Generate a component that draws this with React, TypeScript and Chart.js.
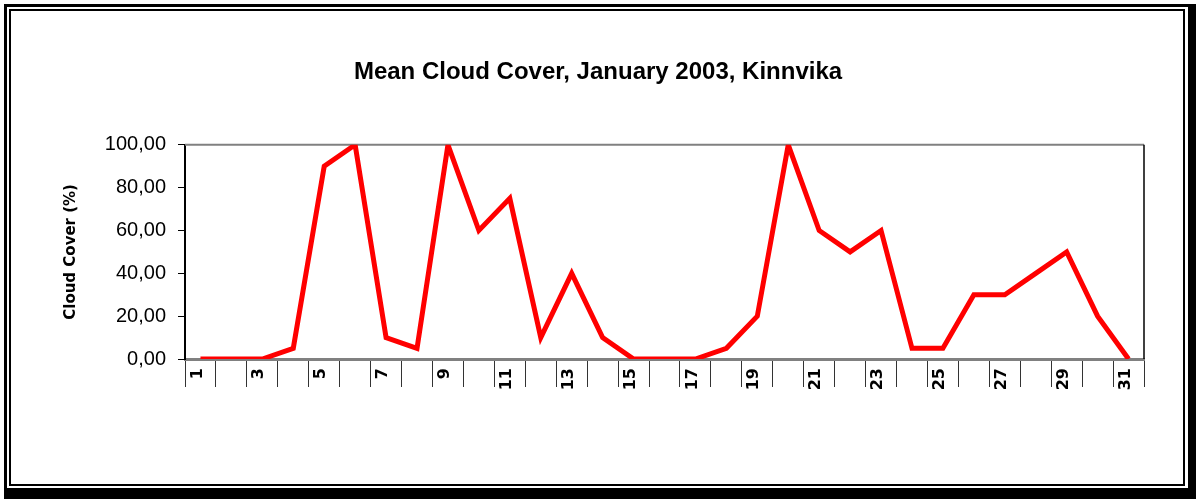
import React, { useEffect, useRef } from "react";
import { Chart, registerables } from "chart.js";

Chart.register(...registerables);

const days: string[] = [
  "1", "2", "3", "4", "5", "6", "7", "8", "9", "10", "11", "12", "13", "14", "15", "16",
  "17", "18", "19", "20", "21", "22", "23", "24", "25", "26", "27", "28", "29", "30", "31",
];
const cloudCover: number[] = [
  0, 0, 0, 5, 90, 100, 10, 5, 100, 60, 75, 10, 40, 10, 0, 0,
  0, 5, 20, 100, 60, 50, 60, 5, 5, 30, 30, 40, 50, 20, 0,
];
const yTicks: number[] = [0, 20, 40, 60, 80, 100];

const plotFrame = {
  id: "plotFrame",
  beforeDatasetsDraw(chart: any) {
    const { ctx, chartArea } = chart;
    ctx.save();
    ctx.strokeStyle = "#808080";
    ctx.lineWidth = 2;
    ctx.beginPath();
    ctx.moveTo(chartArea.left, chartArea.top);
    ctx.lineTo(chartArea.right, chartArea.top);
    ctx.stroke();
    ctx.strokeStyle = "#000";
    ctx.lineWidth = 1.5;
    ctx.beginPath();
    ctx.moveTo(chartArea.right, chartArea.top);
    ctx.lineTo(chartArea.right, chartArea.bottom);
    ctx.stroke();
    ctx.restore();
  },
};

export default function App() {
  const ref = useRef<HTMLCanvasElement | null>(null);
  useEffect(() => {
    if (!ref.current) return;
    const chart = new Chart(ref.current, {
      type: "line",
      data: {
        labels: days,
        datasets: [
          {
            data: cloudCover,
            borderColor: "#ff0000",
            borderWidth: 5,
            pointRadius: 0,
            tension: 0,
            fill: false,
          },
        ],
      },
      options: {
        animation: false,
        responsive: false,
        layout: { padding: { left: 0, right: 0, top: 0, bottom: 0 } },
        plugins: {
          legend: { display: false },
          tooltip: { enabled: false },
          title: {
            display: true,
            text: "Mean Cloud Cover, January 2003, Kinnvika",
            color: "#000",
            font: { family: "Liberation Sans", size: 24, weight: "bold" },
            padding: { top: 58, bottom: 58 },
          },
        },
        scales: {
          x: {
            offset: true,
            afterFit: (s: any) => {
              s.height = 140;
            },
            grid: {
              offset: true,
              drawOnChartArea: false,
              drawTicks: true,
              tickLength: 28,
              color: "#333",
              lineWidth: 1,
            },
            border: { display: true, color: "#808080", width: 3 },
            ticks: {
              autoSkip: false,
              minRotation: 90,
              maxRotation: 90,
              padding: -19,
              labelOffset: -3,
              color: "#000",
              font: { family: "DejaVu Sans", size: 16, weight: "bold" },
              callback: (_v: any, i: number) => (i % 2 === 0 ? days[i] : ""),
            },
          },
          y: {
            min: 0,
            max: 100,
            afterFit: (s: any) => {
              s.width = 185;
            },
            afterBuildTicks: (s: any) => {
              s.ticks = yTicks.map((v) => ({ value: v }));
            },
            grid: {
              drawOnChartArea: false,
              drawTicks: true,
              tickLength: 7,
              color: "#000",
              lineWidth: 1,
            },
            border: { display: true, color: "#000", width: 2 },
            title: {
              display: true,
              text: "Cloud Cover (%)",
              color: "#000",
              font: { family: "DejaVu Sans", size: 15, weight: "bold" },
              padding: { top: 62, bottom: 0 },
            },
            ticks: {
              padding: 12,
              color: "#000",
              font: { family: "Liberation Sans", size: 20 },
              callback: (v: any) => Number(v).toFixed(2).replace(".", ","),
            },
          },
          yRight: {
            position: "right",
            display: true,
            afterFit: (s: any) => {
              s.width = 52;
            },
            grid: { display: false, drawTicks: false },
            border: { display: false },
            ticks: { display: false },
          },
        },
      },
      plugins: [plotFrame],
    });
    return () => chart.destroy();
  }, []);

  return (
    <div style={{ position: "fixed", left: 0, top: 0, width: 1196, height: 499, background: "#fff" }}>
      <div style={{ position: "absolute", left: 4, top: 4, width: 1192, height: 495, background: "#000" }} />
      <div style={{ position: "absolute", left: 7, top: 7, width: 1181, height: 481, background: "#fff" }} />
      <div
        style={{
          position: "absolute",
          left: 9,
          top: 9,
          width: 1176,
          height: 477,
          border: "2px solid #000",
          boxSizing: "border-box",
        }}
      />
      <canvas ref={ref} width={1196} height={499} style={{ position: "absolute", left: 0, top: 0 }} />
    </div>
  );
}
